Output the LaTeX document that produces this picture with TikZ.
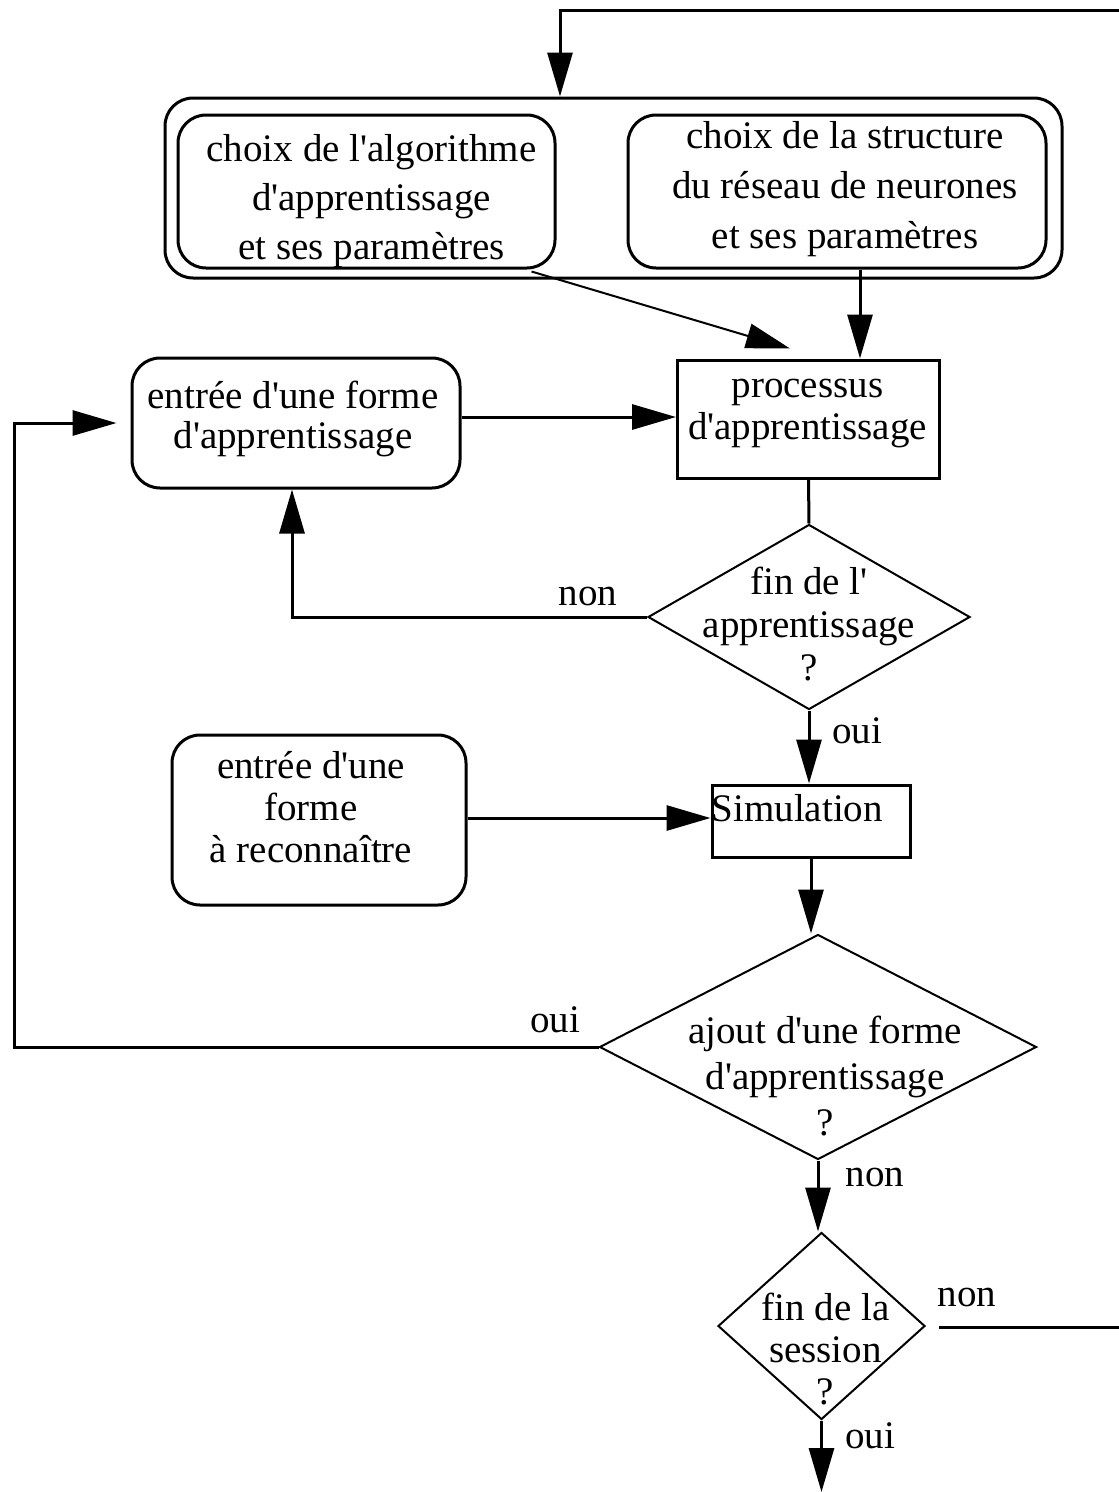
\documentclass[tikz,border=0pt]{standalone}
\usepackage{fontspec}
\setmainfont{Liberation Serif}[Ligatures=TeXOff]
\usetikzlibrary{arrows.meta,shapes.geometric,calc}

\begin{document}
\begin{tikzpicture}[x=1pt,y=-1pt,
    every node/.style={font=\fontsize{39}{42}\selectfont, inner sep=0pt},
    line/.style={line width=3pt},
    arr/.style={line width=3pt, -{Triangle[length=44pt,width=25pt]}},
    rbox/.style={draw, line width=3pt, rounded corners=28pt},
    sbox/.style={draw, line width=3pt},
    decision/.style={draw, line width=2pt, diamond, inner sep=0pt},
    txt/.style={align=center, font=\fontsize{39}{#1}\selectfont},
    txt/.default=42,
    tag/.style={font=\fontsize{39}{42}\selectfont}]

  % page frame
  \useasboundingbox (0,0) rectangle (1119,1492);

  % grouped choices at the top
  \node[rbox, minimum width=897pt, minimum height=180pt] (grp) at (613.5,188) {};
  \node[rbox, minimum width=377pt, minimum height=153pt,
        label={[txt=49, xshift=5pt, yshift=-10pt]center:choix de l'algorithme\\d'apprentissage\\et ses paramètres}]
        (alg) at (366.5,191.5) {};
  \node[rbox, minimum width=418pt, minimum height=153pt,
        label={[txt=50, xshift=8pt, yshift=2pt]center:choix de la structure\\du réseau de neurones\\et ses paramètres}]
        (str) at (837,191.5) {};

  % learning stage
  \node[rbox, minimum width=328pt, minimum height=130pt,
        label={[txt=40, xshift=-3pt, yshift=4pt]center:entrée d'une forme\\d'apprentissage}]
        (ent1) at (296,423) {};
  \node[sbox, minimum width=262pt, minimum height=118pt,
        label={[txt, xshift=-1pt, yshift=5pt]center:processus\\d'apprentissage}]
        (proc) at (808.5,419) {};
  \node[decision, minimum width=322pt, minimum height=185pt,
        label={[txt=43, yshift=-7pt]center:fin de l'\\apprentissage\\?}]
        (d1) at (809,617) {};

  % recognition stage
  \node[rbox, minimum width=294pt, minimum height=170pt,
        label={[txt, xshift=-8pt, yshift=13pt]center:entrée d'une\\forme\\à reconnaître}]
        (ent2) at (319,820) {};
  \node[sbox, minimum width=198pt, minimum height=72pt] (sim) at (811,821) {};
  \node[anchor=west] (simtxt) at ($(sim.west)+(1,-13)$) {Simulation};
  \node[decision, minimum width=437pt, minimum height=225pt,
        label={[txt=46, xshift=7pt, yshift=-29pt]center:ajout d'une forme\\d'apprentissage\\?}]
        (d2) at (818,1047) {};
  \node[decision, minimum width=207pt, minimum height=187pt,
        label={[txt, xshift=4pt, yshift=-23pt]center:fin de la\\session\\?}]
        (d3) at (821.5,1326) {};

  % free ends and bends
  \coordinate (topR) at (1119,10);
  \coordinate (tbend) at (560,10);
  \coordinate (xs) at (860,0);
  \coordinate (xl) at (14,0);
  \coordinate (exitR) at (1119,1327);
  \coordinate (bottom) at (0,1492);
  \coordinate (algout) at ($(alg.south east)+(-25,2)$);
  \coordinate (procin) at ($(proc.north)+(-18.5,-10)$);
  \coordinate (e1out) at ($(ent1.east)+(0,-6)$);
  \coordinate (e2out) at ($(ent2.east)+(0,-2)$);
  \coordinate (d3out) at ($(d3.east)+(13,1)$);

  % connectors
  \draw[arr] (topR) -- (tbend) -- (tbend |- grp.north);
  \draw[arr, line width=2pt] (algout) -- (procin);
  \draw[arr] (str.south -| xs) -- (proc.north -| xs);
  \draw[arr] (e1out) -- (e1out -| proc.west);
  \draw[line] (proc.south) -- (d1.north);
  \draw[arr] (d1.west) -| ($(ent1.south)+(-4,0)$);
  \draw[arr] (d1.south) -- (sim.north -| d1.south);
  \draw[arr] (e2out) -- (e2out -| sim.west);
  \draw[arr] (sim.south) -- (d2.north -| sim.south);
  \draw[arr, shorten >=14pt] (d2.west) -- (d2.west -| xl) -- (xl |- ent1.west) -- (ent1.west);
  \draw[arr] (d2.south) -- (d3.north -| d2.south);
  \draw[line] (d3out) -- (exitR);
  \draw[arr] (d3.south) -- (d3.south |- bottom);

  % branch labels
  \node[tag] (l1) at (588,596) {non};
  \node[tag] (l2) at (857,731) {oui};
  \node[tag] (l3) at (555,1020) {oui};
  \node[tag] (l4) at (875,1177) {non};
  \node[tag] (l5) at (967,1297) {non};
  \node[tag] (l6) at (870,1436) {oui};
\end{tikzpicture}
\end{document}
